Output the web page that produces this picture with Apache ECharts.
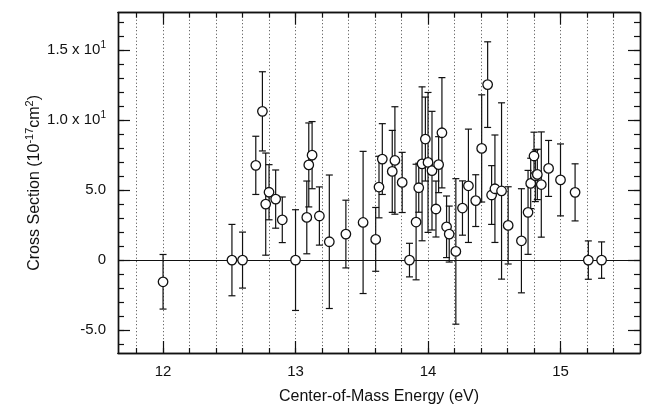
<!DOCTYPE html>
<html>
<head>
<meta charset="utf-8">
<title>Cross Section vs Center-of-Mass Energy</title>
<script src="https://cdn.jsdelivr.net/npm/echarts@6/dist/echarts.min.js"></script>
<style>
  html, body { margin: 0; padding: 0; background: #fff; }
  #cross_section { width: 645px; height: 411px; }
</style>
</head>
<body>
<div id="cross_section"></div>
<script>
// center-of-mass energy (eV)
var energy = [12.00, 12.52, 12.60, 12.70, 12.75, 12.775, 12.80, 12.85, 12.90, 13.00,
  13.085, 13.10, 13.125, 13.18, 13.255, 13.38, 13.51, 13.605, 13.63, 13.655,
  13.73, 13.75, 13.805, 13.86, 13.91, 13.93, 13.955, 13.98, 14.00, 14.03,
  14.06, 14.08, 14.105, 14.14, 14.16, 14.21, 14.26, 14.305, 14.36, 14.405,
  14.45, 14.48, 14.505, 14.555, 14.605, 14.705, 14.755, 14.775, 14.80, 14.81,
  14.825, 14.855, 14.91, 15.00, 15.11, 15.21, 15.31];
// cross section (1e-17 cm2)
var crossSection = [-1.55, 0, 0, 6.77, 10.63, 4.0, 4.85, 4.36, 2.88, 0,
  3.05, 6.8, 7.5, 3.15, 1.31, 1.86, 2.69, 1.48, 5.22, 7.22,
  6.34, 7.12, 5.55, 0, 2.72, 5.17, 6.88, 8.65, 6.98, 6.39,
  3.65, 6.82, 9.1, 2.38, 1.86, 0.62, 3.72, 5.31, 4.25, 7.98,
  12.54, 4.65, 5.1, 4.94, 2.48, 1.38, 3.41, 5.48, 7.44, 6.03,
  6.12, 5.4, 6.55, 5.73, 4.84, 0, 0];
// +/- error
var errBar = [1.95, 2.55, 2.0, 2.08, 2.83, 3.65, 1.97, 2.08, 1.63, 3.6,
  2.6, 3.0, 2.4, 2.08, 4.77, 2.42, 5.08, 2.28, 2.2, 2.53,
  2.93, 3.84, 2.15, 1.2, 4.13, 1.75, 5.5, 3.0, 5.0, 4.24,
  2.0, 2.0, 3.94, 2.2, 2.0, 5.2, 1.94, 4.05, 1.85, 3.83,
  3.06, 2.1, 3.84, 6.3, 2.76, 3.72, 3.0, 1.8, 1.7, 1.85,
  1.8, 3.76, 2.0, 2.57, 2.04, 1.37, 1.3];

// ticks
var xLabels = [12, 13, 14, 15];
var xMinorTicks = [11.8, 12.0, 12.2, 12.4, 12.6, 12.8, 13.0, 13.2, 13.4, 13.6, 13.8,
  14.0, 14.2, 14.4, 14.6, 14.8, 15.0, 15.2, 15.4];
var yLabels = [-5, 0, 5, 10, 15];
var yMinorTicks = [-6, -5, -4, -3, -2, -1, 0, 1, 2, 3, 4, 5, 6, 7, 8, 9, 10, 11, 12, 13, 14, 15, 16, 17];

var X_MIN = 11.66, X_MAX = 15.6;
var Y_MIN = -6.64, Y_MAX = 17.68;
var FONT = '"Liberation Sans", Arial, sans-serif';

var pts = [], bars = [];
for (var i = 0; i < energy.length; i++) {
  pts.push([energy[i], crossSection[i]]);
  bars.push([energy[i], crossSection[i] - errBar[i], crossSection[i] + errBar[i]]);
}

// 只画刻度的辅助轴
function tickAxis(pos, ticks, len, isX) {
  return {
    type: 'value',
    position: pos,
    min: isX ? X_MIN : Y_MIN,
    max: isX ? X_MAX : Y_MAX,
    axisLine: { show: true, onZero: false, lineStyle: { color: '#111', width: 1.4 } },
    axisTick: { show: true, inside: true, length: len, customValues: ticks, lineStyle: { color: '#111', width: 1.2 } },
    axisLabel: { show: false },
    splitLine: { show: false }
  };
}

var chart = echarts.init(document.getElementById('cross_section'));
chart.setOption({
  animation: false,
  backgroundColor: '#fff',
  grid: { left: 118, right: 5, top: 12.7, bottom: 58 },
  xAxis: [
    {
      type: 'value',
      position: 'bottom',
      min: X_MIN,
      max: X_MAX,
      name: 'Center-of-Mass Energy (eV)',
      nameLocation: 'middle',
      nameGap: 36,
      nameMoveOverlap: false,
      nameTextStyle: { fontFamily: FONT, fontSize: 16, color: '#111' },
      axisLine: { show: true, onZero: false, lineStyle: { color: '#111', width: 1.4 } },
      axisTick: { show: true, inside: true, length: 5, customValues: xMinorTicks, lineStyle: { color: '#111', width: 1.2 } },
      axisLabel: { customValues: xLabels, margin: 11, fontFamily: FONT, fontSize: 15, color: '#111' },
      splitLine: { show: true, lineStyle: { color: '#444', width: 1, type: [1, 2.5] } }
    },
    tickAxis('bottom', xLabels, 12, true),
    tickAxis('top', xMinorTicks, 5, true),
    tickAxis('top', xLabels, 12, true)
  ],
  yAxis: [
    {
      type: 'value',
      position: 'left',
      min: Y_MIN,
      max: Y_MAX,
      name: 'Cross Section (10{sup|-17}cm{sup|2})',
      nameLocation: 'middle',
      nameGap: 72,
      nameMoveOverlap: false,
      nameTextStyle: {
        fontFamily: FONT, fontSize: 16, color: '#111', lineHeight: 22,
        rich: { sup: { fontFamily: FONT, fontSize: 11, lineHeight: 11, verticalAlign: 'top', color: '#111' } }
      },
      axisLine: { show: true, onZero: false, lineStyle: { color: '#111', width: 1.4 } },
      axisTick: { show: true, inside: true, length: 6, customValues: yMinorTicks, lineStyle: { color: '#111', width: 1.2 } },
      axisLabel: {
        customValues: yLabels,
        margin: 12,
        fontFamily: FONT,
        fontSize: 15,
        color: '#111',
        lineHeight: 20,
        formatter: function (v) {
          if (v === 0) return '0';
          if (Math.abs(v) < 10) return v.toFixed(1);
          return (v / 10).toFixed(1) + ' x 10{sup|1}';
        },
        rich: { sup: { fontFamily: FONT, fontSize: 10, lineHeight: 10, verticalAlign: 'top', color: '#111' } }
      },
      splitLine: { show: false }
    },
    tickAxis('left', yLabels, 12, false),
    tickAxis('right', yMinorTicks, 6, false),
    tickAxis('right', yLabels, 12, false)
  ],
  series: [
    {
      type: 'custom',
      name: 'error',
      xAxisIndex: 0,
      yAxisIndex: 0,
      data: bars,
      encode: { x: 0, y: [1, 2] },
      z: 3,
      renderItem: function (params, api) {
        var x = api.value(0);
        var top = api.coord([x, api.value(2)]);
        var bot = api.coord([x, api.value(1)]);
        var w = 3.5;
        var st = { stroke: '#111', lineWidth: 1.2 };
        return {
          type: 'group',
          children: [
            { type: 'line', shape: { x1: top[0], y1: top[1], x2: bot[0], y2: bot[1] }, style: st },
            { type: 'line', shape: { x1: top[0] - w, y1: top[1], x2: top[0] + w, y2: top[1] }, style: st },
            { type: 'line', shape: { x1: bot[0] - w, y1: bot[1], x2: bot[0] + w, y2: bot[1] }, style: st }
          ]
        };
      }
    },
    {
      type: 'scatter',
      name: 'cross section',
      xAxisIndex: 0,
      yAxisIndex: 0,
      data: pts,
      symbol: 'circle',
      symbolSize: 9.5,
      z: 5,
      itemStyle: { color: '#fff', borderColor: '#111', borderWidth: 1.3, opacity: 1 },
      markLine: {
        silent: true,
        symbol: 'none',
        label: { show: false },
        lineStyle: { color: '#111', width: 1.2, type: 'solid' },
        data: [{ yAxis: 0 }]
      }
    }
  ]
});
</script>
</body>
</html>
